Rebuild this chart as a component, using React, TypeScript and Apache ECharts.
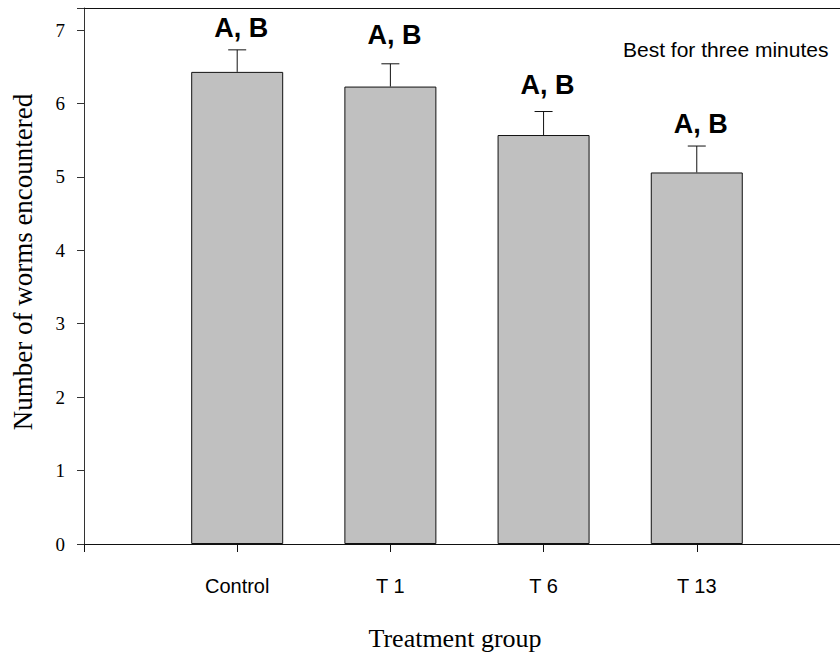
import React, { useEffect, useRef } from "react";
import * as echarts from "echarts";

// Treatment groups and their mean counts with standard errors
const categories = ["Control", "T 1", "T 6", "T 13"];
const means = [6.43, 6.23, 5.57, 5.06];
const errors = [0.3, 0.31, 0.32, 0.36];

// Significance letters shown above each bar, at these y values
const letters = ["A, B", "A, B", "A, B", "A, B"];
const letterY = [7.03, 6.93, 6.25, 5.72];

const yTicks = [0, 1, 2, 3, 4, 5, 6, 7];

// The x range runs slightly past the last slot; the frame's right edge lies beyond the canvas
const X_MAX = 4.935;

const SERIF = "'Liberation Serif', 'Times New Roman', serif";
const SANS = "'Liberation Sans', Arial, sans-serif";

export default function App() {
  const ref = useRef<HTMLDivElement>(null);

  useEffect(() => {
    if (!ref.current) return;
    const chart = echarts.init(ref.current, undefined, { renderer: "svg" });

    const barData = means.map((m, i) => [i + 1, m]);
    const errData = means.map((m, i) => [i + 1, m, errors[i]]);
    const letterData = letters.map((t, i) => [i + 1, letterY[i], i]);

    chart.setOption({
      animation: false,
      backgroundColor: "#fff",
      grid: {
        left: 84,
        top: 8,
        right: 0,
        bottom: 110,
        show: false,
      },
      xAxis: [
        {
          type: "value",
          min: 0,
          max: X_MAX,
          interval: 1,
          splitLine: { show: false },
          axisLine: { show: true, lineStyle: { color: "#111", width: 1 } },
          axisTick: { show: true, length: 8, lineStyle: { color: "#111" } },
          axisLabel: {
            margin: 32,
            fontFamily: SANS,
            fontSize: 20,
            color: "#000",
            showMaxLabel: false,
            formatter: (v: number) => categories[v - 1] ?? "",
          },
        },
        {
          // top frame line
          type: "value",
          position: "top",
          min: 0,
          max: X_MAX,
          interval: 1,
          splitLine: { show: false },
          axisLine: { show: true, lineStyle: { color: "#111", width: 1 } },
          axisTick: { show: false },
          axisLabel: { show: false },
        },
      ],
      yAxis: {
        type: "value",
        min: 0,
        max: 7.3,
        interval: 1,
        splitLine: { show: false },
        axisLine: { show: true, lineStyle: { color: "#333", width: 1 } },
        axisTick: { show: true, length: 7, lineStyle: { color: "#333" } },
        axisLabel: {
          margin: 19,
          fontFamily: SERIF,
          fontSize: 19,
          color: "#000",
          formatter: (v: number) => (yTicks.includes(v) ? String(v) : ""),
        },
      },
      series: [
        {
          type: "bar",
          data: barData,
          barWidth: 92,
          itemStyle: { color: "#c0c0c0", borderColor: "#111", borderWidth: 1 },
          z: 2,
        },
        {
          type: "custom",
          data: errData,
          z: 3,
          renderItem: (_p: any, api: any) => {
            const x = api.value(0);
            const m = api.value(1);
            const e = api.value(2);
            const base = api.coord([x, m]);
            const top = api.coord([x, m + e]);
            const hw = 9;
            return {
              type: "group",
              children: [
                {
                  type: "line",
                  shape: { x1: base[0], y1: base[1], x2: top[0], y2: top[1] },
                  style: { stroke: "#111", lineWidth: 1 },
                },
                {
                  type: "line",
                  shape: { x1: top[0] - hw, y1: top[1], x2: top[0] + hw, y2: top[1] },
                  style: { stroke: "#111", lineWidth: 1 },
                },
              ],
            };
          },
        },
        {
          type: "custom",
          data: letterData,
          z: 4,
          renderItem: (_p: any, api: any) => {
            const pt = api.coord([api.value(0), api.value(1)]);
            const idx = api.value(2);
            return {
              type: "text",
              x: pt[0] + 4,
              y: pt[1],
              style: {
                text: letters[idx],
                fill: "#000",
                fontFamily: SANS,
                fontSize: 27,
                fontWeight: "bold",
                align: "center",
                verticalAlign: "middle",
              },
            };
          },
        },
      ],
      graphic: [
        {
          type: "text",
          x: 623,
          y: 49,
          style: {
            text: "Best for three minutes",
            fill: "#000",
            font: `21px ${SANS}`,
            textAlign: "left",
            textVerticalAlign: "middle",
          },
        },
        {
          type: "text",
          x: 455,
          y: 638,
          style: {
            text: "Treatment group",
            fill: "#000",
            font: `26px ${SERIF}`,
            textAlign: "center",
            textVerticalAlign: "middle",
          },
        },
        {
          type: "text",
          x: 23,
          y: 262,
          rotation: Math.PI / 2,
          style: {
            text: "Number of worms encountered",
            fill: "#000",
            font: `27px ${SERIF}`,
            textAlign: "center",
            textVerticalAlign: "middle",
          },
        },
      ],
    });

    return () => chart.dispose();
  }, []);

  return (
    <div
      ref={ref}
      style={{ position: "absolute", left: 0, top: 0, width: 840, height: 654 }}
    />
  );
}
